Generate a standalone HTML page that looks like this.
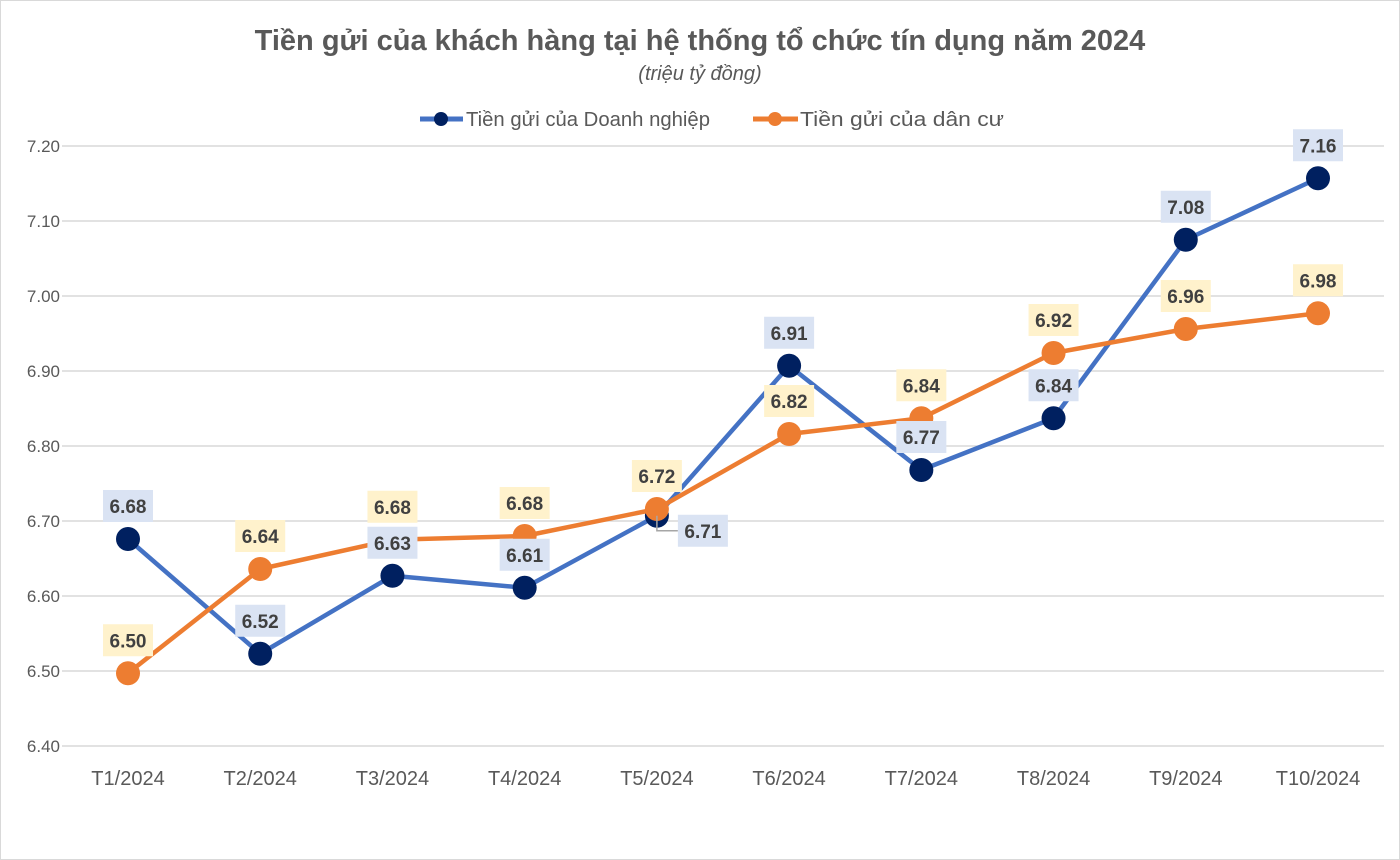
<!DOCTYPE html>
<html><head><meta charset="utf-8">
<style>
html,body{margin:0;padding:0;background:#fff;}
svg{display:block;font-family:"Liberation Sans",Calibri,sans-serif;}
</style></head>
<body>
<svg id="chart" width="1400" height="860" viewBox="0 0 1400 860">
<rect x="0.5" y="0.5" width="1399" height="859" fill="#fff" stroke="#d9d9d9"/>
<text x="700" y="50" text-anchor="middle" font-size="29" font-weight="bold" fill="#595959">Tiền gửi của khách hàng tại hệ thống tổ chức tín dụng năm 2024</text>
<text x="700" y="80" text-anchor="middle" font-size="20" font-style="italic" fill="#595959">(triệu tỷ đồng)</text>
<g>
<g>
<line x1="420" y1="119" x2="463" y2="119" stroke="#4472c4" stroke-width="5"/>
<circle cx="441" cy="119" r="7" fill="#002060"/>
<text x="466" y="126" font-size="20" fill="#595959" textLength="244" lengthAdjust="spacingAndGlyphs">Tiền gửi của Doanh nghiệp</text>
</g>
<g>
<line x1="753" y1="119" x2="798" y2="119" stroke="#ed7d31" stroke-width="5"/>
<circle cx="775" cy="119" r="7" fill="#ed7d31"/>
<text x="800" y="126" font-size="20" fill="#595959" textLength="204" lengthAdjust="spacingAndGlyphs">Tiền gửi của dân cư</text>
</g>
</g>
<g id="grid"></g>
<g id="xaxis"></g>
<g id="series"></g>
<g id="labels"></g>
</svg>
<script>
const categories = ["T1/2024","T2/2024","T3/2024","T4/2024","T5/2024","T6/2024","T7/2024","T8/2024","T9/2024","T10/2024"];
const doanhNghiep = [6.676,6.523,6.627,6.611,6.707,6.907,6.768,6.837,7.075,7.157];
const danCu = [6.497,6.636,6.675,6.680,6.716,6.816,6.837,6.924,6.956,6.977];
const doanhNghiepLabels = ["6.68","6.52","6.63","6.61","6.71","6.91","6.77","6.84","7.08","7.16"];
const danCuLabels = ["6.50","6.64","6.68","6.68","6.72","6.82","6.84","6.92","6.96","6.98"];
const yTicks = [6.40,6.50,6.60,6.70,6.80,6.90,7.00,7.10,7.20];

const NS="http://www.w3.org/2000/svg";
const yMin=6.40,yMax=7.20,yTop=146,yBot=746;
const y=v=>yBot-(v-yMin)/(yMax-yMin)*(yBot-yTop);
const x0=128,x1=1318;
const x=i=>x0+i*(x1-x0)/(categories.length-1);
function mk(tag,attrs,parent){const e=document.createElementNS(NS,tag);for(const k in attrs)e.setAttribute(k,attrs[k]);parent.appendChild(e);return e;}
const grid=document.getElementById('grid'),xa=document.getElementById('xaxis'),ser=document.getElementById('series'),lab=document.getElementById('labels');

yTicks.forEach(t=>{
  const l=mk('line',{x1:62,x2:1384,y1:y(t),y2:y(t),stroke:'#d9d9d9','stroke-width':1.5},grid);
  
  
  const tx=mk('text',{x:60,y:y(t)+6,'text-anchor':'end','font-size':17,fill:'#595959'},grid);
  tx.textContent=t.toFixed(2);
  
  
});
categories.forEach((c,i)=>{
  const tx=mk('text',{x:x(i),y:785,'text-anchor':'middle','font-size':20,fill:'#595959'},xa);
  tx.textContent=c;
  
  
});

function drawSeries(vals,lineCol,dotCol,name){
  const pts=vals.map((v,i)=>x(i)+','+y(v)).join(' ');
  const pl=mk('polyline',{points:pts,fill:'none',stroke:lineCol,'stroke-width':4.5,'stroke-linejoin':'round'},ser);
  
  
  vals.forEach((v,i)=>{
    const c=mk('circle',{cx:x(i),cy:y(v),r:12,fill:dotCol},ser);
    
    
  });
}
drawSeries(doanhNghiep,'#4472c4','#002060','doanh-nghiep');
drawSeries(danCu,'#ed7d31','#ed7d31','dan-cu');

function drawLabels(vals,texts,bg,name){
  vals.forEach((v,i)=>{
    let cx=x(i),cy=y(v)-33;
    if(name==='doanh-nghiep'&&i===4){
      cx=x(i)+46;cy=y(v)+15;
      const ld=mk('polyline',{points:`${x(i)},${y(v)} ${x(i)},${cy} ${cx-25},${cy}`,fill:'none',stroke:'#a6a6a6','stroke-width':1.5},lab);
      
      
    }
    const r=mk('rect',{x:cx-25,y:cy-16,width:50,height:32,fill:bg},lab);
    
    
    const t=mk('text',{x:cx,y:cy+7,'text-anchor':'middle','font-size':19,'font-weight':'bold',fill:'#404040'},lab);
    t.textContent=texts[i];
    
    
  });
}
drawLabels(doanhNghiep,doanhNghiepLabels,'#dae3f3','doanh-nghiep');
drawLabels(danCu,danCuLabels,'#fff2cc','dan-cu');
</script>
</body></html>
